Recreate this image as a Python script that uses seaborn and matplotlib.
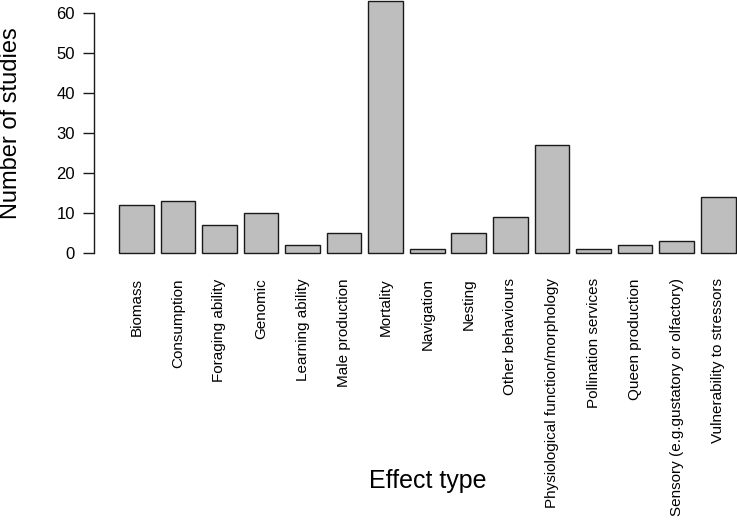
import pandas as pd
import seaborn as sns
import matplotlib.pyplot as plt

effect_types = ['Biomass', 'Consumption', 'Foraging ability', 'Genomic', 'Learning ability',
                'Male production', 'Mortality', 'Navigation', 'Nesting', 'Other behaviours',
                'Physiological function/morphology', 'Pollination services', 'Queen production',
                'Sensory (e.g.gustatory or olfactory)', 'Vulnerability to stressors']
n_studies = [12, 13, 7, 10, 2, 5, 63, 1, 5, 9, 27, 1, 2, 3, 14]

df = pd.DataFrame({'effect': effect_types, 'n': n_studies})

sns.set_style('white', {'text.color': 'black', 'axes.labelcolor': 'black',
                        'xtick.color': 'black', 'ytick.color': 'black'})
plt.rcParams['font.family'] = ['Liberation Sans', 'DejaVu Sans']

W, H = 737, 528
fig = plt.figure(figsize=(W / 100, H / 100), dpi=100)
# R-style plot region; it runs a little past the right/top edge like the reference crop
ax_left, ax_right, ax_bottom = 94.3, 760.2, 263
ax = fig.add_axes([ax_left / W, 1 - ax_bottom / H, (ax_right - ax_left) / W, ax_bottom / H])

sns.barplot(data=df, x='effect', y='n', color='#bebebe', saturation=1,
            width=1 / 1.2, edgecolor='#1a1a1a', linewidth=1, ax=ax)

ax.set_xlim(-1.01, 15.01)
ax.set_ylim(-2.52, 63.25)
ax.set_yticks([0, 10, 20, 30, 40, 50, 60])
ax.tick_params(axis='y', labelsize=12, length=8, width=1, pad=6, left=True,
               color='#1a1a1a', labelcolor='black')
ax.tick_params(axis='x', labelsize=11, length=0, pad=11, rotation=90, labelcolor='black')
for lbl in ax.get_xticklabels():
    lbl.set_va('top')

for s in ['top', 'right', 'bottom']:
    ax.spines[s].set_visible(False)
ax.spines['left'].set_bounds(0, 60)
ax.spines['left'].set_color('#1a1a1a')
ax.spines['left'].set_linewidth(1)

ax.set_xlabel('')
ax.set_ylabel('')
fig.text(11 / W, 1 - 123 / H, 'Number of studies', fontsize=17, rotation=90,
         ha='center', va='center', color='black')
fig.text(428 / W, 1 - 481 / H, 'Effect type', fontsize=18, ha='center', va='center',
         color='black')

fig.savefig('out.png', dpi=100)
